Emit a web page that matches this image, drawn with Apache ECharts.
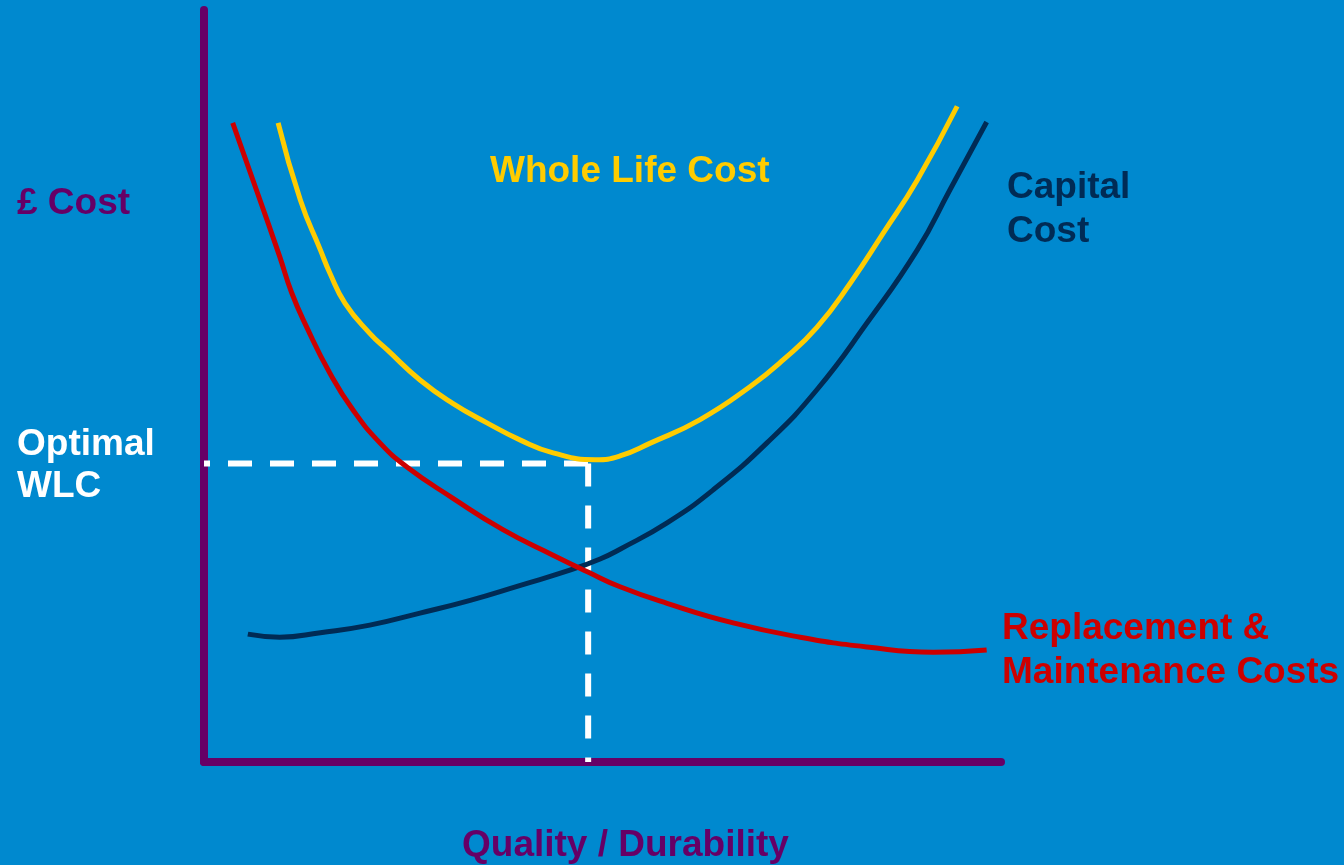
<!DOCTYPE html>
<html>
<head>
<meta charset="utf-8">
<script src="https://cdn.jsdelivr.net/npm/echarts@6/dist/echarts.min.js"></script>
<style>
html,body{margin:0;padding:0;background:#0089CF;}
#chart{width:1344px;height:865px;}
</style>
</head>
<body>
<div id="chart"></div>
<script>
// Whole Life Cost curve (quality 0-100, cost 0-100)
const wlcX = [9.3, 12.1, 14.6, 15.8, 17.7, 20.8, 23.0, 27.1, 31.2, 35.5, 39.7, 43.8, 49.1, 52.2, 56.0, 62.2, 68.5, 72.7, 76.9, 81.1, 85.2, 89.5, 94.5];
const wlcY = [85.0, 74.7, 68.1, 65.0, 61.0, 57.0, 54.8, 50.8, 47.7, 45.1, 42.8, 41.1, 40.2, 40.7, 42.4, 45.5, 49.9, 53.5, 57.8, 63.7, 70.3, 77.4, 87.2];
// Capital Cost curve
const capX = [5.5, 9.5, 14.6, 20.8, 27.1, 33.4, 39.7, 45.9, 49.7, 52.2, 58.1, 63.9, 70.6, 76.9, 83.2, 89.5, 93.6, 98.2];
const capY = [17.0, 16.6, 17.2, 18.2, 19.8, 21.5, 23.5, 25.5, 27.0, 28.3, 31.8, 36.2, 42.4, 49.5, 58.4, 68.1, 76.1, 85.1];
// Replacement & Maintenance Costs curve
const repX = [3.6, 6.7, 9.5, 11.0, 12.9, 15.8, 18.7, 22.1, 25.5, 31.2, 37.5, 43.8, 48.1, 52.2, 58.1, 66.4, 74.8, 83.2, 91.5, 98.2];
const repY = [85.0, 75.7, 67.2, 62.4, 57.8, 51.7, 46.8, 42.4, 39.2, 35.1, 30.9, 27.5, 25.3, 23.3, 21.1, 18.5, 16.6, 15.3, 14.6, 14.9];
// Optimal point
const optimalX = 48.2;
const optimalY = 39.7;

const zip = (xs, ys) => xs.map((x, i) => [x, ys[i]]);

const PURPLE = '#660066';

const chart = echarts.init(document.getElementById('chart'));

function txt(s, x, y, color) {
  return {
    type: 'text', x: x, y: y, silent: true,
    style: {
      text: s, fill: color,
      fontFamily: 'Liberation Sans, Arial, sans-serif',
      fontWeight: 'bold', fontSize: 37,
      align: 'left', verticalAlign: 'middle'
    }
  };
}

const curve = (name, xs, ys, color) => ({
  name: name, type: 'line', data: zip(xs, ys), symbol: 'none',
  smooth: 0.5, z: 3,
  lineStyle: { color: color, width: 5 }
});

const option = {
  backgroundColor: '#0089CF',
  animation: false,
  grid: { left: 204, right: 343, top: 10, bottom: 103, containLabel: false },
  xAxis: {
    type: 'value', min: 0, max: 100,
    axisLine: { show: true, lineStyle: { color: PURPLE, width: 8 } },
    axisTick: { show: false }, axisLabel: { show: false }, splitLine: { show: false }
  },
  yAxis: {
    type: 'value', min: 0, max: 100,
    axisLine: { show: true, lineStyle: { color: PURPLE, width: 8 } },
    axisTick: { show: false }, axisLabel: { show: false }, splitLine: { show: false }
  },
  series: [
    {
      type: 'line', data: [[0, optimalY], [optimalX, optimalY]], symbol: 'none', z: 1,
      lineStyle: { color: '#FFFFFF', width: 6, type: [24, 18], dashOffset: 18 }
    },
    {
      type: 'line', data: [[optimalX, optimalY], [optimalX, 0]], symbol: 'none', z: 1,
      lineStyle: { color: '#FFFFFF', width: 6, type: [23, 19], dashOffset: 0 }
    },
    curve('Capital Cost', capX, capY, '#002B55'),
    curve('Replacement & Maintenance Costs', repX, repY, '#CC0000'),
    curve('Whole Life Cost', wlcX, wlcY, '#FFCC00')
  ],
  graphic: [
    txt('Whole Life Cost', 490, 172, '#FFCC00'),
    txt('£ Cost', 17, 204, PURPLE),
    txt('Optimal', 17, 445, '#FFFFFF'),
    txt('WLC', 17, 487, '#FFFFFF'),
    txt('Capital', 1007, 188, '#002B55'),
    txt('Cost', 1007, 232, '#002B55'),
    txt('Replacement &', 1002, 629, '#CC0000'),
    txt('Maintenance Costs', 1002, 673, '#CC0000'),
    txt('Quality / Durability', 462, 846, PURPLE)
  ]
};
chart.setOption(option);
</script>
</body>
</html>
